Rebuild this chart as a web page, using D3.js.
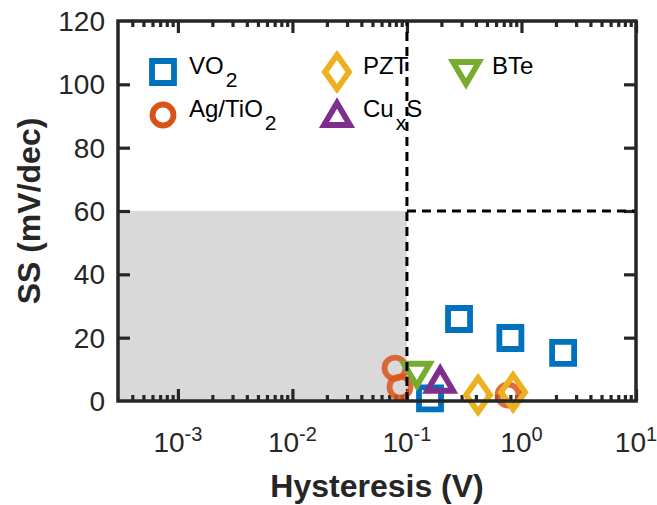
<!DOCTYPE html>
<html>
<head>
<meta charset="utf-8">
<script src="https://cdn.jsdelivr.net/npm/d3@7"></script>
<style>
  body { margin: 0; background: #fff; }
  svg { display: block; font-family: "Liberation Sans", Arial, Helvetica, sans-serif; }
</style>
</head>
<body>
<div id="chart"></div>
<script>
// series (hysteresis in V, SS in mV/dec)
const vo2X = [0.285, 0.80, 2.31, 0.159];
const vo2Y = [25.9, 19.9, 15.2, 0.8];
const agTiO2X = [0.0787, 0.087, 0.764];
const agTiO2Y = [10.4, 4.4, 1.9];
const pztX = [0.418, 0.845];
const pztY = [1.9, 2.8];
const cuxSX = [0.195];
const cuxSY = [6.4];
const bteX = [0.122];
const bteY = [8.6];

const xMajorTicks = [1e-3, 1e-2, 1e-1, 1e0, 1e1];
const xTickExponents = ["-3", "-2", "-1", "0", "1"];
const yTicks = [0, 20, 40, 60, 80, 100, 120];

const xLimit = 0.1;   // hysteresis threshold
const yLimit = 60;    // thermionic limit

const series = [
  { name: "VO", sub: "2", tail: "", shape: "square", color: "#0072BD", xs: vo2X, ys: vo2Y },
  { name: "Ag/TiO", sub: "2", tail: "", shape: "circle", color: "#D95319", xs: agTiO2X, ys: agTiO2Y },
  { name: "PZT", sub: "", tail: "", shape: "diamond", color: "#EDB120", xs: pztX, ys: pztY },
  { name: "Cu", sub: "x", tail: "S", shape: "triangleUp", color: "#7E2F8E", xs: cuxSX, ys: cuxSY },
  { name: "BTe", sub: "", tail: "", shape: "triangleDown", color: "#77AC30", xs: bteX, ys: bteY }
];

const width = 657, height = 505;
const plot = { left: 118, right: 636, top: 21, bottom: 401 };
const axisColor = "#262626";

const svg = d3.select("#chart").append("svg")
  .attr("width", width)
  .attr("height", height);

const x = d3.scaleLog()
  .domain([3e-4, 10])
  .range([plot.left, plot.right]);
const y = d3.scaleLinear()
  .domain([0, 120])
  .range([plot.bottom, plot.top]);

// marker outlines, centred on 0,0
function markerPath(shape) {
  switch (shape) {
    case "square": return "M-11,-11H11V11H-11Z";
    case "circle": return d3.arc()({ innerRadius: 0, outerRadius: 10.5, startAngle: 0, endAngle: 2 * Math.PI });
    case "diamond": return "M0,-17L12,0L0,17L-12,0Z";
    case "triangleUp": return "M0,-12L13,10L-13,10Z";
    case "triangleDown": return "M0,12L13,-10L-13,-10Z";
  }
}

// shaded region: sub-thermionic and low hysteresis
svg.append("rect")
  .attr("x", x.range()[0])
  .attr("y", y(yLimit))
  .attr("width", x(xLimit) - x.range()[0])
  .attr("height", y(0) - y(yLimit))
  .style("fill", "#D9D9D9");

// ticks on all four sides, pointing inward
const minorTicks = x.ticks()
  .filter(t => !xMajorTicks.some(m => Math.abs(m - t) / m < 1e-9))
  .filter(t => x(t) > plot.left + 2);

function styleAxis(g) {
  g.select(".domain").remove();
  g.selectAll("line").style("stroke", axisColor).style("stroke-width", 3.2);
  g.selectAll("text").remove();
}

svg.append("g")
  .attr("transform", `translate(0,${plot.bottom})`)
  .call(d3.axisBottom(x).tickValues(xMajorTicks).tickSize(-12))
  .call(styleAxis);
svg.append("g")
  .attr("transform", `translate(0,${plot.bottom})`)
  .call(d3.axisBottom(x).tickValues(minorTicks).tickSize(-6))
  .call(styleAxis);
svg.append("g")
  .attr("transform", `translate(0,${plot.top})`)
  .call(d3.axisTop(x).tickValues(xMajorTicks).tickSize(-12))
  .call(styleAxis);
svg.append("g")
  .attr("transform", `translate(0,${plot.top})`)
  .call(d3.axisTop(x).tickValues(minorTicks).tickSize(-6))
  .call(styleAxis);
svg.append("g")
  .attr("transform", `translate(${plot.left},0)`)
  .call(d3.axisLeft(y).tickValues(yTicks.slice(1, -1)).tickSize(-12))
  .call(styleAxis);
svg.append("g")
  .attr("transform", `translate(${plot.right},0)`)
  .call(d3.axisRight(y).tickValues(yTicks.slice(1, -1)).tickSize(-12))
  .call(styleAxis);

// tick labels
svg.append("g").selectAll("text")
  .data(yTicks)
  .join("text")
    .attr("x", plot.left - 13)
    .attr("y", d => y(d) + 10)
    .attr("text-anchor", "end")
    .style("font-size", "28px")
    .style("fill", axisColor)
    .text(d => d);

const xLabels = svg.append("g").selectAll("text")
  .data(xMajorTicks)
  .join("text")
    .attr("x", d => x(d))
    .attr("y", 452)
    .attr("text-anchor", "middle")
    .style("fill", axisColor);
xLabels.append("tspan")
  .style("font-size", "28px")
  .text("10");
xLabels.append("tspan")
  .attr("dy", -11)
  .style("font-size", "20px")
  .text((d, i) => xTickExponents[i]);

// axis titles
svg.append("text")
  .attr("x", (plot.left + plot.right) / 2)
  .attr("y", 497)
  .attr("text-anchor", "middle")
  .style("font-size", "32px")
  .style("font-weight", "bold")
  .style("fill", axisColor)
  .text("Hysteresis (V)");

svg.append("text")
  .attr("transform", `translate(40,${(plot.top + plot.bottom) / 2}) rotate(-90)`)
  .attr("text-anchor", "middle")
  .style("font-size", "32px")
  .style("font-weight", "bold")
  .style("fill", axisColor)
  .text("SS (mV/dec)");

// data markers
series.forEach(s => {
  svg.append("g").selectAll("path")
    .data(s.xs.map((v, i) => [v, s.ys[i]]))
    .join("path")
      .attr("transform", d => `translate(${x(d[0])},${y(d[1])})`)
      .attr("d", markerPath(s.shape))
      .style("fill", "none")
      .style("stroke", s.color)
      .style("stroke-width", 5.8)
      .style("stroke-opacity", s.shape === "circle" ? 0.85 : 1);
});

// legend, two rows filled column by column
const legendCols = [163, 337, 466];
const legendRows = [72, 115];
const legend = svg.append("g");
series.forEach((s, i) => {
  const cx = legendCols[Math.floor(i / 2)];
  const cy = legendRows[i % 2];
  legend.append("path")
    .attr("transform", `translate(${cx},${cy})`)
    .attr("d", markerPath(s.shape))
    .style("fill", "none")
    .style("stroke", s.color)
    .style("stroke-width", 5.8);
  const t = legend.append("text")
    .attr("x", cx + 26)
    .attr("y", cy + 2)
    .style("font-size", "24px")
    .style("fill", "#000");
  t.append("tspan").text(s.name);
  if (s.sub) {
    t.append("tspan").attr("dy", 13).attr("dx", 2).style("font-size", "21px").text(s.sub);
  }
  if (s.tail) {
    t.append("tspan").attr("dy", -13).text(s.tail);
  }
});

// threshold lines
svg.append("line")
  .attr("x1", x(xLimit)).attr("x2", x(xLimit))
  .attr("y1", y(0)).attr("y2", y(120))
  .style("stroke", "#000")
  .style("stroke-width", 3)
  .style("stroke-dasharray", "9,6");
svg.append("line")
  .attr("x1", x(xLimit)).attr("x2", plot.right)
  .attr("y1", y(yLimit)).attr("y2", y(yLimit))
  .style("stroke", "#000")
  .style("stroke-width", 3)
  .style("stroke-dasharray", "9,6");

// box
svg.append("rect")
  .attr("x", plot.left)
  .attr("y", plot.top)
  .attr("width", plot.right - plot.left)
  .attr("height", plot.bottom - plot.top)
  .style("fill", "none")
  .style("stroke", axisColor)
  .style("stroke-width", 3.5);
</script>
</body>
</html>
